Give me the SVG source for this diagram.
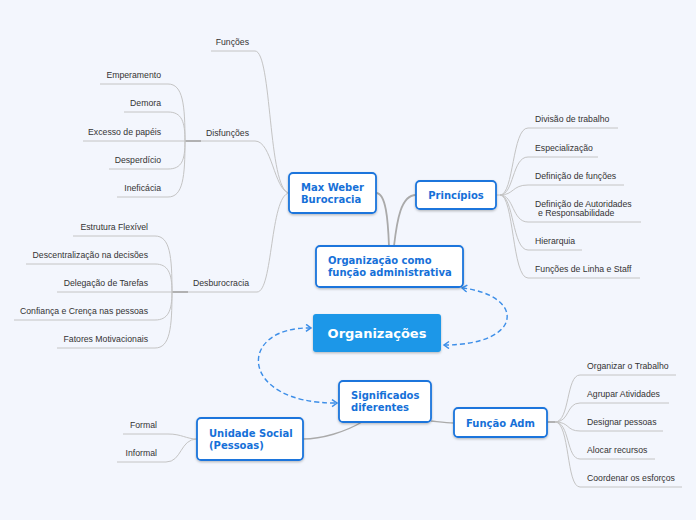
<svg xmlns="http://www.w3.org/2000/svg" width="696" height="520" viewBox="0 0 696 520">
<defs>
<style>
.bg{fill:#f3f6fd}
.box{fill:#ffffff;stroke:#1b75dc;stroke-width:1.8;filter:url(#sh)}
.main{fill:#1b97e8;filter:url(#sh)}
.nt{font-family:"DejaVu Sans",Verdana,sans-serif;font-weight:bold;font-size:10px;fill:#1670d8}
.mt{font-family:"DejaVu Sans",Verdana,sans-serif;font-weight:bold;font-size:13px;fill:#ffffff}
.lt{font-family:"Liberation Sans",Arial,sans-serif;font-size:8.7px;fill:#333333}
.ln{fill:none;stroke:#c4c4c4;stroke-width:1}
.th{fill:none;stroke:#aaaaaa;stroke-width:1.8}
.ds{fill:none;stroke:#3c8ee8;stroke-width:1.4;stroke-dasharray:5,3;marker-start:url(#ar);marker-end:url(#ar)}
</style>
<filter id="sh" x="-10%" y="-20%" width="120%" height="150%">
<feDropShadow dx="0" dy="1.2" stdDeviation="1" flood-color="#000" flood-opacity="0.25"/>
</filter>
<marker id="ar" markerUnits="userSpaceOnUse" markerWidth="9" markerHeight="9" refX="6" refY="4" orient="auto-start-reverse">
<path d="M1,0.5 L6,4 L1,7.5" fill="none" stroke="#3c8ee8" stroke-width="1.5"/>
</marker>
</defs>
<rect class="bg" x="0" y="0" width="696" height="520"/>

<g id="connectors">
<path class="ln" d="M211,51 H255 C272,51 268,190 289,193"/>
<path class="ln" d="M201,141 H255 C272,141 274,190 289,193"/>
<path class="ln" d="M188,292 H257 C273,292 270,196 289,193"/>
<path class="th" d="M185,141 H201"/>
<path class="th" d="M172,292 H188"/>
<path class="ln" d="M100,84 H168 C183,84 185,105 185,141"/>
<path class="ln" d="M124,112 H168 C182,112 185,122 185,141"/>
<path class="ln" d="M83,141 H185"/>
<path class="ln" d="M109,169 H168 C182,169 185,160 185,141"/>
<path class="ln" d="M117,197 H168 C183,197 185,177 185,141"/>
<path class="ln" d="M73,236 H155 C170,236 172,256 172,292"/>
<path class="ln" d="M26,264 H155 C168,264 172,273 172,292"/>
<path class="ln" d="M57,292 H172"/>
<path class="ln" d="M14,320 H155 C168,320 172,311 172,292"/>
<path class="ln" d="M57,348 H155 C170,348 172,328 172,292"/>
<path class="ln" d="M496,195 H500 C514,195 512,128 528,128 H618"/>
<path class="ln" d="M500,195 C514,195 512,157 528,157 H598"/>
<path class="ln" d="M500,195 C514,195 512,185 528,185 H624"/>
<path class="ln" d="M500,195 C514,195 512,222 528,222 H641"/>
<path class="ln" d="M500,195 C514,195 512,250 528,250 H582"/>
<path class="ln" d="M500,195 C514,195 512,278 528,278 H640"/>
<path class="th" d="M547,422 H555"/>
<path class="ln" d="M555,422 C570,422 566,375 580,375 H676"/>
<path class="ln" d="M555,422 C570,422 566,403 580,403 H669"/>
<path class="ln" d="M555,422 C570,422 566,431 580,431 H663"/>
<path class="ln" d="M555,422 C570,422 566,459 580,459 H655"/>
<path class="ln" d="M555,422 C570,422 566,487 580,487 H682"/>
<path class="ln" d="M123,434 H168 C182,434 186,439 197,439"/>
<path class="ln" d="M117,462 H166 C182,462 180,439 197,439"/>
<path class="th" d="M376,193 C386,193 388,220 389,246"/>
<path class="th" d="M416,195 C401,195 397,220 394,246"/>
<path class="th" d="M431,421 C440,422 446,423 454,423" style="stroke-width:1.4"/>
<path class="th" d="M362,422 C345,432 322,439 303,439" style="stroke-width:1.4"/>
<path class="ds" d="M462,288 C525,295 525,345 444,345"/>
<path class="ds" d="M311,328 C237,326 237,404 337,403"/>
</g>

<g id="max-weber">
<rect class="box" x="289" y="173" width="87" height="40" rx="4"/>
<text class="nt" x="301" y="191">Max Weber</text>
<text class="nt" x="301" y="203">Burocracia</text>
</g>
<g id="principios">
<rect class="box" x="416" y="181" width="80" height="28" rx="4"/>
<text class="nt" x="456" y="199" text-anchor="middle">Princípios</text>
</g>
<g id="organizacao-funcao">
<rect class="box" x="316" y="246" width="147" height="41" rx="4"/>
<text class="nt" x="328" y="264">Organização como</text>
<text class="nt" x="328" y="276">função administrativa</text>
</g>
<g id="organizacoes">
<rect class="main" x="313" y="314" width="128" height="38" rx="3"/>
<text class="mt" x="377" y="338" text-anchor="middle">Organizações</text>
</g>
<g id="significados">
<rect class="box" x="339" y="381" width="92" height="41" rx="4"/>
<text class="nt" x="351" y="399">Significados</text>
<text class="nt" x="351" y="411">diferentes</text>
</g>
<g id="funcao-adm">
<rect class="box" x="454" y="408" width="93" height="29" rx="4"/>
<text class="nt" x="500.5" y="426.5" text-anchor="middle">Função Adm</text>
</g>
<g id="unidade-social">
<rect class="box" x="197" y="418" width="106" height="42" rx="4"/>
<text class="nt" x="209" y="437">Unidade Social</text>
<text class="nt" x="209" y="449">(Pessoas)</text>
</g>

<g id="leaves-left" text-anchor="end">
<text class="lt" x="249" y="44.5">Funções</text>
<text class="lt" x="249" y="135.5">Disfunções</text>
<text class="lt" x="249" y="285.5">Desburocracia</text>
<text class="lt" x="161" y="77.5">Emperamento</text>
<text class="lt" x="161" y="105.5">Demora</text>
<text class="lt" x="161" y="134.5">Excesso de papéis</text>
<text class="lt" x="161" y="162.5">Desperdício</text>
<text class="lt" x="161" y="190.5">Ineficácia</text>
<text class="lt" x="148" y="229.5">Estrutura Flexível</text>
<text class="lt" x="148" y="257.5">Descentralização na decisões</text>
<text class="lt" x="148" y="285.5">Delegação de Tarefas</text>
<text class="lt" x="148" y="313.5">Confiança e Crença nas pessoas</text>
<text class="lt" x="148" y="341.5">Fatores Motivacionais</text>
<text class="lt" x="157" y="427.5">Formal</text>
<text class="lt" x="157" y="455.5">Informal</text>
</g>
<g id="leaves-right">
<text class="lt" x="535" y="121.5">Divisão de trabalho</text>
<text class="lt" x="535" y="150.5">Especialização</text>
<text class="lt" x="535" y="178.5">Definição de funções</text>
<text class="lt" x="535" y="206.5">Definição de Autoridades</text>
<text class="lt" x="538" y="215.5">e Responsabilidade</text>
<text class="lt" x="535" y="243.5">Hierarquia</text>
<text class="lt" x="535" y="271.5">Funções de Linha e Staff</text>
<text class="lt" x="587" y="368.5">Organizar o Trabalho</text>
<text class="lt" x="587" y="396.5">Agrupar Atividades</text>
<text class="lt" x="587" y="424.5">Designar pessoas</text>
<text class="lt" x="587" y="452.5">Alocar recursos</text>
<text class="lt" x="587" y="480.5">Coordenar os esforços</text>
</g>
</svg>
